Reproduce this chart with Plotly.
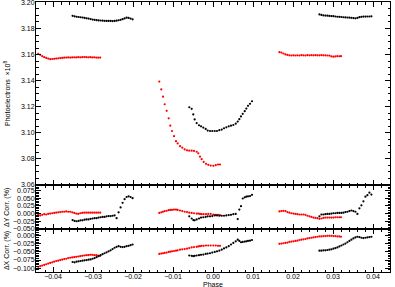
import plotly.graph_objects as go
from plotly.subplots import make_subplots

# ---------------- data ----------------
# Transit A (left)
phase_red_a = [-0.0437, -0.0432, -0.0427, -0.0422, -0.0417, -0.0412, -0.0407, -0.0402, -0.0397, -0.0392,
               -0.0387, -0.0382, -0.0377, -0.0372, -0.0367, -0.0362, -0.0357, -0.0352, -0.0347, -0.0342,
               -0.0337, -0.0332, -0.0327, -0.0322, -0.0317, -0.0312, -0.0307, -0.0302, -0.0297, -0.0292,
               -0.0287, -0.0282]
flux_red_a = [3.1605, 3.1598, 3.1588, 3.1580, 3.1574, 3.1569, 3.1565, 3.1566, 3.1567, 3.1569,
              3.1571, 3.1573, 3.1574, 3.1576, 3.1577, 3.1578, 3.1577, 3.1578, 3.1579, 3.1578,
              3.1580, 3.1579, 3.1580, 3.1581, 3.1580, 3.1579, 3.1580, 3.1578, 3.1579, 3.1577,
              3.1576, 3.1577]
dy_red_a = [-0.004, -0.006, -0.004, -0.002, -0.003, -0.001, 0.000, 0.001, 0.002, 0.003,
            0.004, 0.005, 0.006, 0.006, 0.007, 0.006, 0.006, 0.004, 0.002, 0.000,
            -0.001, 0.001, 0.002, 0.003, 0.003, 0.003, 0.003, 0.003, 0.003, 0.003,
            0.003, 0.003]
dx_red_a = [-0.096, -0.094, -0.092, -0.090, -0.088, -0.086, -0.084, -0.082, -0.080, -0.078,
            -0.077, -0.075, -0.074, -0.072, -0.071, -0.069, -0.068, -0.067, -0.066, -0.065,
            -0.064, -0.063, -0.062, -0.061, -0.060, -0.060, -0.059, -0.059, -0.060, -0.060,
            -0.061, -0.062]

phase_blk_a = [-0.0351, -0.0346, -0.0341, -0.0336, -0.0331, -0.0326, -0.0321, -0.0316, -0.0311, -0.0306,
               -0.0301, -0.0296, -0.0291, -0.0286, -0.0281, -0.0276, -0.0271, -0.0266, -0.0261, -0.0256,
               -0.0251, -0.0246, -0.0241, -0.0236, -0.0231, -0.0226, -0.0221, -0.0216, -0.0211, -0.0206,
               -0.0201]
flux_blk_a = [3.1897, 3.1893, 3.1890, 3.1888, 3.1886, 3.1884, 3.1881, 3.1878, 3.1876, 3.1872,
              3.1868, 3.1866, 3.1864, 3.1862, 3.1861, 3.1860, 3.1859, 3.1858, 3.1858, 3.1858,
              3.1857, 3.1858, 3.1860, 3.1863, 3.1866, 3.1871, 3.1877, 3.1883, 3.1881, 3.1876,
              3.1870]
dy_blk_a = [-0.021, -0.024, -0.025, -0.024, -0.022, -0.022, -0.020, -0.019, -0.019, -0.017,
            -0.016, -0.015, -0.015, -0.013, -0.012, -0.011, -0.011, -0.009, -0.008, -0.008,
            -0.007, -0.006, -0.015, 0.004, 0.020, 0.035, 0.047, 0.054, 0.056, 0.054,
            0.050]
dx_blk_a = [-0.081, -0.082, -0.080, -0.079, -0.078, -0.077, -0.076, -0.075, -0.074, -0.073,
            -0.071, -0.069, -0.066, -0.063, -0.060, -0.057, -0.054, -0.051, -0.048, -0.045,
            -0.041, -0.037, -0.034, -0.032, -0.034, -0.035, -0.034, -0.032, -0.031, -0.029,
            -0.027]

# Transit B (middle)
phase_red_b = [-0.01343, -0.01293, -0.0125, -0.01208, -0.01158, -0.01108, -0.01068, -0.01025, -0.00975, -0.00925,
               -0.00883, -0.00825, -0.00768, -0.00708, -0.0065, -0.00593, -0.00533, -0.00475, -0.00408, -0.00368,
               -0.00325, -0.00283, -0.00233, -0.00175, -0.00118, -0.00058, 0.00008, 0.00068, 0.00125, 0.00175]
flux_red_b = [3.1393, 3.1333, 3.1277, 3.1219, 3.1169, 3.1111, 3.1055, 3.1014, 3.0974, 3.0936,
              3.0919, 3.0898, 3.0886, 3.0873, 3.0866, 3.0863, 3.0863, 3.0861, 3.0855, 3.0843,
              3.0817, 3.0798, 3.0777, 3.0762, 3.0755, 3.0749, 3.0747, 3.0752, 3.0757, 3.0757]
dy_red_b = [0.002, 0.004, 0.006, 0.008, 0.009, 0.011, 0.012, 0.012, 0.013, 0.013,
            0.012, 0.010, 0.008, 0.006, 0.005, 0.003, 0.002, 0.001, 0.000, 0.000,
            -0.001, -0.002, -0.002, -0.002, -0.001, -0.001, -0.003, -0.004, -0.004, -0.005]
dx_red_b = [-0.056, -0.055, -0.054, -0.053, -0.052, -0.050, -0.049, -0.048, -0.047, -0.046,
            -0.045, -0.043, -0.042, -0.041, -0.040, -0.038, -0.036, -0.035, -0.034, -0.033,
            -0.032, -0.031, -0.031, -0.030, -0.030, -0.030, -0.030, -0.030, -0.031, -0.031]

phase_blk_b = [-0.00593, -0.00533, -0.00493, -0.00458, -0.00408, -0.0035, -0.003, -0.00243, -0.00183, -0.00133,
               -0.00075, -0.00018, 0.00043, 0.001, 0.00158, 0.00218, 0.00275, 0.00333, 0.00393, 0.0045,
               0.00508, 0.00568, 0.00618, 0.00658, 0.007, 0.00743, 0.00793, 0.00833, 0.00875, 0.00925,
               0.00975]
flux_blk_b = [3.1196, 3.1184, 3.1141, 3.1103, 3.1075, 3.1058, 3.1050, 3.1040, 3.1030, 3.1017,
              3.1014, 3.1014, 3.1014, 3.1014, 3.1020, 3.1025, 3.1035, 3.1042, 3.1050, 3.1055,
              3.1060, 3.1070, 3.1086, 3.1105, 3.1126, 3.1146, 3.1166, 3.1186, 3.1207, 3.1222,
              3.1242]
dy_blk_b = [-0.009, -0.016, -0.021, -0.022, -0.019, -0.016, -0.013, -0.012, -0.011, -0.009,
            -0.009, -0.008, -0.006, -0.006, -0.007, -0.007, -0.007, -0.006, -0.005, -0.004,
            -0.002, -0.001, -0.018, 0.013, 0.024, 0.049, 0.053, 0.055, 0.056, 0.057,
            0.061]
dx_blk_b = [-0.061, -0.062, -0.063, -0.062, -0.061, -0.060, -0.059, -0.058, -0.056, -0.055,
            -0.054, -0.052, -0.050, -0.048, -0.046, -0.043, -0.039, -0.036, -0.032, -0.027,
            -0.022, -0.017, -0.012, -0.016, -0.020, -0.019, -0.018, -0.017, -0.016, -0.015,
            -0.013]

# Transit C (right)
phase_red_c = [0.0166, 0.0171, 0.0176, 0.0181, 0.0186, 0.0191, 0.0196, 0.0201, 0.0206, 0.0211,
               0.0216, 0.0221, 0.0226, 0.0231, 0.0236, 0.0241, 0.0246, 0.0251, 0.0256, 0.0261,
               0.0266, 0.0271, 0.0276, 0.0281, 0.0286, 0.0291, 0.0296, 0.0301, 0.0306, 0.0311,
               0.0316, 0.0320]
flux_red_c = [3.1618, 3.1615, 3.1608, 3.1601, 3.1597, 3.1594, 3.1593, 3.1594, 3.1593, 3.1594,
              3.1593, 3.1595, 3.1594, 3.1593, 3.1595, 3.1594, 3.1595, 3.1594, 3.1595, 3.1594,
              3.1594, 3.1595, 3.1594, 3.1594, 3.1593, 3.1592, 3.1586, 3.1584, 3.1586, 3.1588,
              3.1587, 3.1588]
dy_red_c = [0.007, 0.008, 0.009, 0.008, 0.005, 0.003, 0.001, 0.000, -0.001, -0.002,
            -0.003, -0.003, -0.003, -0.004, -0.007, -0.009, -0.011, -0.013, -0.014, -0.015,
            -0.017, -0.016, -0.014, -0.013, -0.013, -0.013, -0.013, -0.013, -0.012, -0.012,
            -0.012, -0.012]
dx_red_c = [-0.025, -0.024, -0.023, -0.022, -0.021, -0.019, -0.018, -0.017, -0.016, -0.015,
            -0.013, -0.012, -0.011, -0.010, -0.008, -0.007, -0.006, -0.005, -0.004, -0.003,
            -0.002, -0.002, -0.001, -0.001, 0.000, 0.000, 0.000, -0.001, -0.001, -0.002,
            -0.002, -0.003]

phase_blk_c = [0.0266, 0.0271, 0.0276, 0.0281, 0.0286, 0.0291, 0.0296, 0.0301, 0.0306, 0.0311,
               0.0316, 0.0321, 0.0326, 0.0331, 0.0336, 0.0341, 0.0346, 0.0351, 0.0356, 0.0361,
               0.0366, 0.0371, 0.0376, 0.0381, 0.0386, 0.0391, 0.0396]
flux_blk_c = [3.1908, 3.1904, 3.1900, 3.1899, 3.1898, 3.1896, 3.1895, 3.1894, 3.1892, 3.1890,
              3.1889, 3.1888, 3.1886, 3.1885, 3.1884, 3.1883, 3.1882, 3.1880, 3.1878, 3.1881,
              3.1887, 3.1889, 3.1891, 3.1891, 3.1892, 3.1892, 3.1893]
dy_blk_c = [-0.009, -0.003, -0.003, -0.002, -0.001, -0.001, 0.000, 0.001, 0.001, 0.002,
            0.002, 0.002, 0.003, 0.005, 0.006, 0.008, 0.010, 0.008, 0.006, -0.001,
            0.017, 0.027, 0.040, 0.055, 0.060, 0.068, 0.062]
dx_blk_c = [-0.046, -0.046, -0.045, -0.045, -0.044, -0.043, -0.042, -0.040, -0.038, -0.036,
            -0.033, -0.030, -0.027, -0.024, -0.020, -0.016, -0.012, -0.008, -0.005, -0.003,
            -0.004, -0.006, -0.007, -0.006, -0.005, -0.004, -0.003]

x_ticks = [-0.04, -0.03, -0.02, -0.01, 0.00, 0.01, 0.02, 0.03, 0.04]
flux_ticks = [3.06, 3.08, 3.10, 3.12, 3.14, 3.16, 3.18, 3.20]
dy_ticks = [-0.050, -0.025, 0.000, 0.025, 0.050, 0.075]
dx_ticks = [-0.100, -0.075, -0.050, -0.025, 0.000]

# ---------------- figure ----------------
FONT = "Liberation Sans, Arial, sans-serif"
fig = make_subplots(rows=3, cols=1, shared_xaxes=True, vertical_spacing=0,
                    row_heights=[183, 44, 43])

red_phase = phase_red_a + phase_red_b + phase_red_c
blk_phase = phase_blk_a + phase_blk_b + phase_blk_c
panels = [
    (flux_red_a + flux_red_b + flux_red_c, flux_blk_a + flux_blk_b + flux_blk_c),
    (dy_red_a + dy_red_b + dy_red_c, dy_blk_a + dy_blk_b + dy_blk_c),
    (dx_red_a + dx_red_b + dx_red_c, dx_blk_a + dx_blk_b + dx_blk_c),
]
for i, (rv, bv) in enumerate(panels, start=1):
    fig.add_trace(go.Scatter(x=red_phase, y=rv, mode="markers",
                             marker=dict(color="#ff0000", size=2.2, line=dict(width=0)),
                             showlegend=False), row=i, col=1)
    fig.add_trace(go.Scatter(x=blk_phase, y=bv, mode="markers",
                             marker=dict(color="#000000", size=2.2, line=dict(width=0)),
                             showlegend=False), row=i, col=1)

axis_common = dict(showline=True, linecolor="black", linewidth=1, mirror="allticks",
                   ticks="inside", ticklen=5, tickwidth=1, tickcolor="black",
                   showgrid=False, zeroline=False, automargin=False,
                   ticklabeloverflow="allow",
                   tickfont=dict(family=FONT, size=7, color="black"))

for i in range(1, 4):
    fig.update_xaxes(range=[-0.04425, 0.04425], tickvals=x_ticks, tickformat=".2f",
                     minor=dict(ticks="inside", ticklen=2.5, dtick=0.002, tick0=0, tickcolor="black"),
                     showticklabels=(i == 3), ticklabelstandoff=-2, row=i, col=1, **axis_common)

fig.update_yaxes(range=[3.06, 3.2003], tickvals=flux_ticks, tickformat=".2f",
                 minor=dict(ticks="inside", ticklen=2.5, dtick=0.005, tick0=3.0, tickcolor="black"),
                 ticklabelstandoff=-1, row=1, col=1, **axis_common)
fig.update_yaxes(range=[-0.0502, 0.093], tickvals=dy_ticks, tickformat=".3f",
                 minor=dict(ticks="inside", ticklen=2.5, dtick=0.005, tick0=0, tickcolor="black"),
                 ticklabelstandoff=-1, row=2, col=1, **axis_common)
fig.update_yaxes(range=[-0.112, 0.021], tickvals=dx_ticks, tickformat=".3f",
                 minor=dict(ticks="inside", ticklen=2.5, dtick=0.005, tick0=0, tickcolor="black"),
                 ticklabelstandoff=-1, row=3, col=1, **axis_common)

ann_font = dict(family=FONT, size=7, color="black")
fig.add_annotation(text="Phase", xref="paper", yref="paper", x=0.5, y=-0.047,
                   xanchor="center", yanchor="middle", showarrow=False, font=ann_font)
fig.add_annotation(text="Photoelectrons  ×10<sup>8</sup>", xref="paper", yref="paper",
                   x=-0.082, y=0.663, textangle=-90, xanchor="center", yanchor="middle",
                   showarrow=False, font=ann_font)
fig.add_annotation(text="ΔY Corr. (%)", xref="paper", yref="paper",
                   x=-0.082, y=0.241, textangle=-90, xanchor="center", yanchor="middle",
                   showarrow=False, font=ann_font)
fig.add_annotation(text="ΔX Corr. (%)", xref="paper", yref="paper",
                   x=-0.082, y=0.081, textangle=-90, xanchor="center", yanchor="middle",
                   showarrow=False, font=ann_font)

fig.update_layout(width=395, height=287, margin=dict(l=36, r=5, t=2, b=15),
                  paper_bgcolor="white", plot_bgcolor="white",
                  font=dict(family=FONT, size=7, color="black"))

fig.write_html("out.html", config={"displayModeBar": False},
               post_script="document.body.style.margin='0';document.body.style.overflow='hidden';")
